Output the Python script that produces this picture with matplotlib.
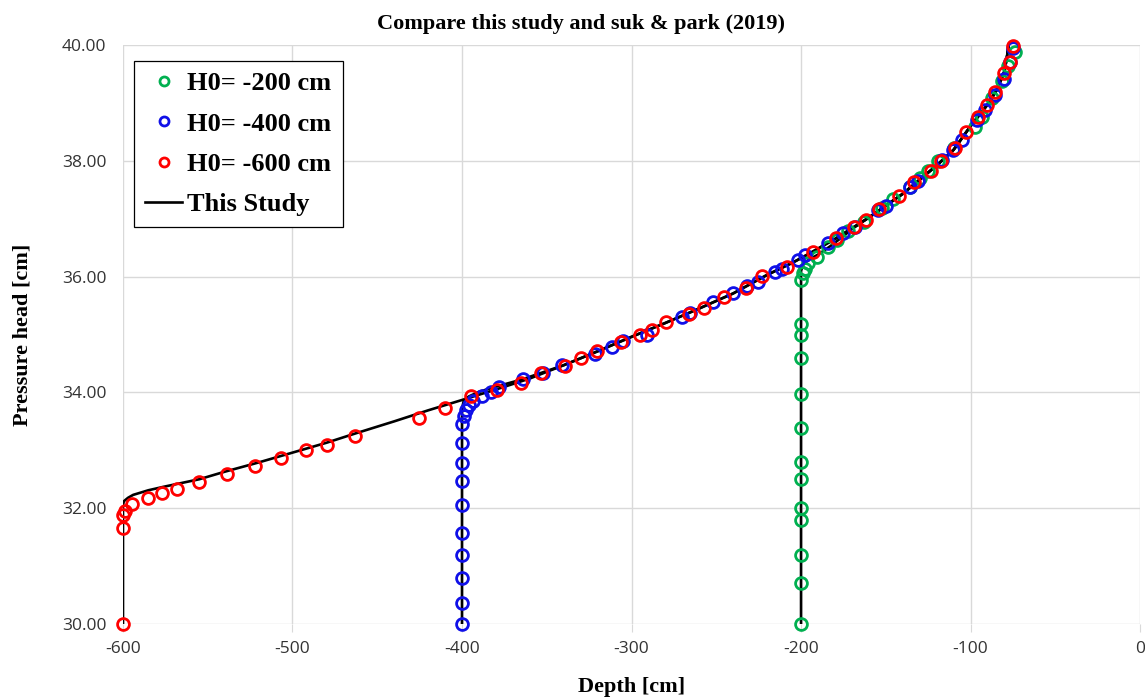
import numpy as np
import matplotlib.pyplot as plt
from matplotlib.lines import Line2D

plt.rcParams['axes.unicode_minus'] = False

# measured points (suk & park 2019)
h200_x = [-200] * 13 + [-199.0, -197.6, -196.0, -190.8, -183.9, -178.6, -172.1, -163.0, -152.4,
                        -145.5, -136.0, -129.8, -125.0, -119.0, -110.0, -97.3, -93.0, -87.5,
                        -81.6, -77.7, -73.8]
h200_y = [30.0, 30.71, 31.20, 31.80, 32.0, 32.50, 32.79, 33.38, 33.98, 34.60, 35.0, 35.19, 35.95,
          36.06, 36.14, 36.23, 36.34, 36.52, 36.63, 36.78, 36.95, 37.18,
          37.34, 37.55, 37.70, 37.82, 37.99, 38.22, 38.59, 38.75, 39.08,
          39.37, 39.63, 39.88]

h400_x = [-400] * 10 + [-398.8, -397.6, -396.0, -393.3, -388.0, -382.9, -378.2, -363.8, -352.0,
                        -341.2, -321.5, -311.7, -304.8, -291.0, -270.0, -265.5, -251.7, -239.9,
                        -232.0, -225.2, -215.3, -211.4, -201.9, -197.6, -183.9, -175.0, -168.2,
                        -154.4, -150.0, -135.7, -131.0, -117.0, -110.1, -105.2, -96.4, -91.5,
                        -85.6, -80.2, -76.7, -74.8]
h400_y = [30.0, 30.37, 30.80, 31.20, 31.58, 32.06, 32.47, 32.78, 33.12, 33.45,
          33.60, 33.70, 33.78, 33.86, 33.93, 34.00, 34.09, 34.23, 34.33,
          34.47, 34.67, 34.79, 34.89, 34.99, 35.30, 35.37, 35.56, 35.71,
          35.83, 35.91, 36.08, 36.14, 36.29, 36.37, 36.58, 36.75, 36.86,
          37.15, 37.22, 37.55, 37.65, 38.01, 38.19, 38.36, 38.70, 38.88,
          39.14, 39.42, 39.71, 39.94]

h600_x = [-600, -600, -600, -599, -594.5, -585.4, -576.8, -568.3, -555.2, -538.8, -522.0, -507.0,
          -492.0, -479.6, -463.0, -425.4, -410.0, -394.9, -379.2, -365.4, -353.4, -339.4,
          -329.8, -320.4, -306.2, -295.0, -287.7, -279.7, -266.1, -257.0, -245.6, -232.6,
          -222.8, -208.0, -192.7, -179.5, -168.7, -161.8, -154.0, -142.0, -133.2, -123.5,
          -117.6, -109.1, -102.9, -95.8, -90.1, -85.4, -80.1, -76.7, -74.8]
h600_y = [30.0, 31.65, 31.88, 31.96, 32.07, 32.17, 32.27, 32.34, 32.45, 32.59, 32.73, 32.87,
          33.00, 33.09, 33.25, 33.56, 33.73, 33.93, 34.05, 34.17, 34.33, 34.46,
          34.59, 34.72, 34.87, 34.99, 35.08, 35.22, 35.35, 35.46, 35.64, 35.81,
          36.01, 36.17, 36.43, 36.66, 36.86, 36.98, 37.17, 37.40, 37.63, 37.82,
          38.00, 38.22, 38.50, 38.76, 38.96, 39.19, 39.51, 39.71, 39.99]

# this study (simulated profiles)
common_x = [-340, -320, -300, -280, -260, -240, -220, -205, -195, -180, -160, -140, -120, -110,
            -100, -90, -85, -82, -80, -78.5, -77.5]
common_y = [34.47, 34.71, 34.96, 35.20, 35.45, 35.71, 36.03, 36.24, 36.40, 36.65, 37.02, 37.43,
            37.92, 38.19, 38.60, 38.97, 39.20, 39.40, 39.55, 39.80, 40.0]

start600_x = [-600, -600, -599.5, -597, -594, -585, -576, -555, -540, -520, -500, -480, -463,
              -440, -420, -401, -390, -380, -360]
start600_y = [30.0, 32.05, 32.12, 32.18, 32.23, 32.31, 32.37, 32.50, 32.63, 32.79, 32.96, 33.13,
              33.29, 33.50, 33.69, 33.86, 33.96, 34.05, 34.24]
start400_x = [-400, -400, -399, -396, -390, -380, -365, -350]
start400_y = [30.0, 33.72, 33.85, 33.93, 34.01, 34.10, 34.22, 34.37]
start200_x = [-200, -200, -198.5, -195, -190, -183, -175, -170]
start200_y = [30.0, 36.10, 36.22, 36.30, 36.38, 36.52, 36.70, 36.82]


def full_profile(sx, sy):
    cx = np.asarray(common_x)
    cy = np.asarray(common_y)
    keep = cx > sx[-1]
    return np.concatenate([sx, cx[keep]]), np.concatenate([sy, cy[keep]])


GREEN = '#00b050'
BLUE = '#1010e8'
RED = '#ff0000'
SERIF = 'Liberation Serif'

fig = plt.figure(figsize=(11.45, 6.99), dpi=100)
ax = fig.add_axes([0.1074, 0.1073, 0.8883, 0.8283])

for sx, sy in [(start600_x, start600_y), (start400_x, start400_y), (start200_x, start200_y)]:
    px, py = full_profile(sx, sy)
    ax.plot(px, py, color='black', linewidth=1.9, zorder=3)

marker_style = dict(linestyle='none', marker='o', markersize=8.5, markerfacecolor='none',
                    markeredgewidth=2.0, zorder=4, clip_on=False)
ax.plot(h200_x, h200_y, markeredgecolor=GREEN, **marker_style)
ax.plot(h400_x, h400_y, markeredgecolor=BLUE, **marker_style)
ax.plot(h600_x, h600_y, markeredgecolor=RED, **marker_style)

ax.set_xlim(-600, 0)
ax.set_ylim(30, 40)
ax.set_xticks(np.arange(-600, 1, 100))
ax.set_yticks(np.arange(30, 40.1, 2))
ax.set_yticklabels([f'{v:.2f}' for v in np.arange(30, 40.1, 2)])
for spine in ax.spines.values():
    spine.set_visible(False)
ax.grid(True, color='#d9d9d9', linewidth=1.0, zorder=0)
ax.set_axisbelow(True)
ax.tick_params(axis='x', length=6, color='#d9d9d9', pad=6, labelsize=12.5, labelcolor='#333333')
ax.tick_params(axis='y', length=0, pad=12, labelsize=12.5, labelcolor='#333333')
for lab in ax.get_xticklabels() + ax.get_yticklabels():
    lab.set_fontfamily('Open Sans')

ax.set_xlabel('Depth [cm]', fontfamily=SERIF, fontweight='bold', fontsize=16, labelpad=15)
ax.set_ylabel('Pressure head [cm]', fontfamily=SERIF, fontweight='bold', fontsize=16, labelpad=21)
fig.text(0.507, 0.966, 'Compare this study and suk & park (2019)', ha='center', va='center',
         fontfamily=SERIF, fontweight='bold', fontsize=16)

handles = [
    Line2D([], [], linestyle='none', marker='o', markersize=6.5, markerfacecolor='none',
           markeredgewidth=2.0, markeredgecolor=GREEN),
    Line2D([], [], linestyle='none', marker='o', markersize=6.5, markerfacecolor='none',
           markeredgewidth=2.0, markeredgecolor=BLUE),
    Line2D([], [], linestyle='none', marker='o', markersize=6.5, markerfacecolor='none',
           markeredgewidth=2.0, markeredgecolor=RED),
    Line2D([], [], color='black', linewidth=1.9),
]
labels = ['H0= -200 cm', 'H0= -400 cm', 'H0= -600 cm', 'This Study']
leg = ax.legend(handles, labels, loc='upper left', bbox_to_anchor=(0.011, 0.973),
                prop={'family': SERIF, 'weight': 'bold', 'size': 19}, frameon=True,
                fancybox=False, edgecolor='black', framealpha=1, handlelength=1.4,
                handletextpad=0.2, labelspacing=0.64, borderpad=0.42, borderaxespad=0)
leg.get_frame().set_linewidth(0.9)
leg.set_zorder(5)

fig.savefig('out.png', dpi=100)
